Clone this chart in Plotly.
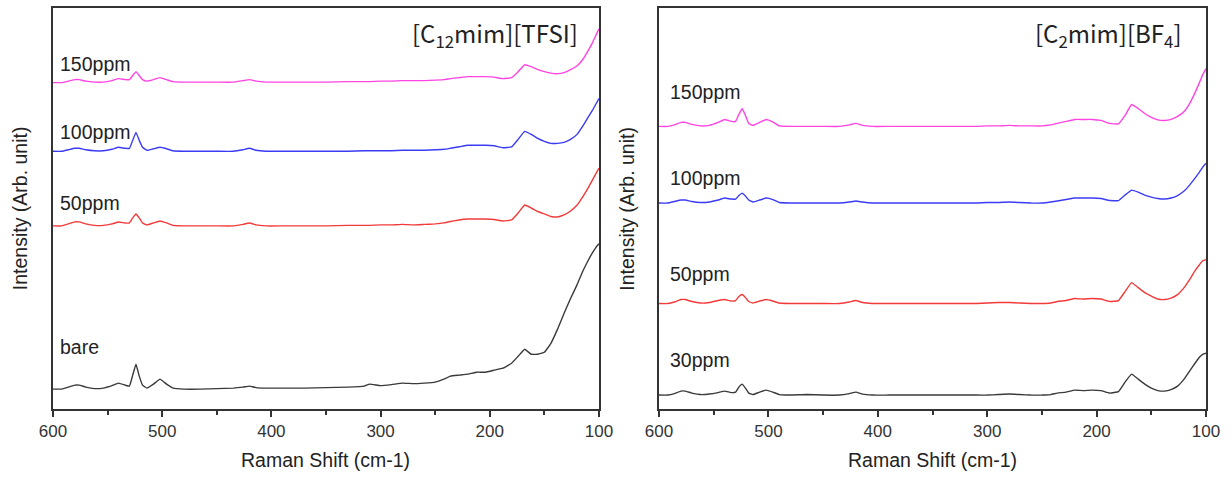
import plotly.graph_objects as go

# Raman shift grid (cm-1), shared by all spectra
raman_shift = [600, 592, 586, 580, 576, 570, 562, 554, 546, 540,
               534, 530, 527, 524, 521, 518, 514, 508, 502, 496,
               490, 480, 465, 450, 435, 426, 420, 414, 405, 390,
               370, 350, 330, 315, 310, 300, 290, 280, 270, 260,
               250, 242, 236, 228, 220, 212, 204, 196, 188, 180,
               174, 168, 162, 156, 150, 144, 138, 132, 126, 120,
               115, 110, 106, 103, 100]

# ---- Left panel: [C12mim][TFSI] (offset intensities, arb. unit)
tfsi_150 = [328, 328, 329.5, 331, 331, 329.5, 328.5, 328.5, 330, 332,
            331, 331, 335, 339, 335, 331, 329.5, 331, 333, 331,
            329, 328.5, 328.5, 328.5, 328.5, 330, 331, 329.5, 328.5, 328.5,
            328.5, 328.5, 329, 329, 329, 329.5, 329.5, 330, 330, 330,
            330.5, 331, 332, 333, 334, 334, 334, 333.5, 332, 333,
            339, 346, 344, 341, 339, 337.5, 337, 338, 341, 345,
            351, 360, 368, 375, 382]
tfsi_100 = [259, 259, 260.5, 262, 262, 260.5, 259.5, 259.5, 261, 263,
            262, 262, 270, 278, 270, 263, 260, 261.5, 263, 261.5,
            259.5, 259, 259, 259, 259, 260.5, 262, 260, 259, 259,
            259, 259, 259, 259.5, 259.5, 259.5, 259.5, 260, 260, 260,
            260.5, 261, 262, 263.5, 265, 265, 265, 264.5, 262.5, 263.5,
            271, 279, 276, 272, 269, 267, 267, 268, 271, 276,
            284, 293, 300, 306, 312]
tfsi_50 = [184, 184, 186, 188, 188, 186, 184.5, 184.5, 186, 188,
           187, 187, 192, 196, 192, 187, 185, 187, 189, 187,
           184.5, 184, 184, 184, 184, 185.5, 187, 185, 184, 184,
           184, 184, 184.5, 184.5, 184.5, 185, 185, 185.5, 185, 185.5,
           186, 187, 188.5, 190, 191, 191, 191, 190.5, 189, 190,
           197, 205, 202, 198.5, 196, 193.5, 193, 195, 199, 205,
           213, 222, 230, 236, 242]
tfsi_bare = [20, 20, 22, 24, 24, 22, 20.5, 21, 23.5, 26,
             24, 23, 34, 45, 33, 24, 21, 25, 30, 25,
             21, 20, 20, 20.5, 21, 22, 23, 21.5, 21, 21,
             21, 21.5, 22, 23, 25, 23.5, 24.5, 26, 25.5, 26,
             27, 30, 33, 34, 35, 37, 37, 39, 41, 46,
             53, 60, 55, 55, 57, 66, 80, 96, 111, 125,
             138, 149, 157, 162, 166]

# ---- Right panel: [C2mim][BF4]
bf4_150 = [284, 284, 285.5, 288, 288, 286, 284.5, 285, 288, 291,
           289, 289, 296, 302, 295, 287, 285, 288, 291, 288.5,
           284.5, 284, 284, 284, 284, 285.5, 287, 285, 284, 284,
           284, 284, 284, 284, 284, 284.5, 284.5, 285, 284.5, 284.5,
           284.5, 285.5, 287, 289, 291, 291, 291, 290, 287, 286.5,
           295, 306, 302, 297, 293, 290.5, 290, 291, 294, 299,
           307, 318, 328, 336, 342]
bf4_100 = [207, 207, 208.5, 210, 210, 208.5, 207.5, 208, 210, 212,
           211, 211, 214.5, 217, 214, 210, 208, 210, 212, 210.5,
           207.5, 207, 207, 207, 207, 208, 209, 208, 207, 207,
           207, 207, 207, 207, 207, 207.5, 207.5, 208, 207.5, 207,
           207, 208, 209, 210.5, 212, 212, 212, 211.5, 209.5, 209.5,
           215, 220, 218, 215, 213, 211.5, 211, 212, 214.5, 219,
           225, 232, 238, 243, 247]
bf4_50 = [106, 106, 107.5, 110, 110, 108, 106.5, 107, 109, 110,
          108.5, 109, 113, 115, 112, 108, 106.5, 108.5, 110, 108.5,
          106.5, 106, 106, 106, 106, 107.5, 109, 107, 106, 106,
          106, 106, 106, 106, 106, 106.5, 107, 107, 106.5, 106,
          106, 106.5, 108, 109, 111, 110.5, 111, 110.5, 108, 109,
          118, 127, 122, 117, 113.5, 110.5, 110, 111.5, 115, 122,
          130, 139, 145, 149, 150]
bf4_30 = [14, 14, 15.5, 18, 18, 16, 14.5, 15, 16.5, 18,
          16.5, 17, 22, 25, 21, 16, 14.5, 17, 19, 17,
          14.5, 14, 14.5, 14, 14, 15.5, 17, 15, 14, 14,
          14, 14, 14, 14, 14, 14, 14.5, 15, 14.5, 14,
          14, 14.5, 16, 17, 19, 18.5, 19, 18.5, 16, 17.5,
          27, 35, 30, 25, 21, 18.5, 18, 19.5, 23, 30,
          38, 46, 52, 55, 56]

# labels
left_labels = ["150ppm", "100ppm", "50ppm", "bare"]
left_label_y = [347, 278, 207, 62]
right_labels = ["150ppm", "100ppm", "50ppm", "30ppm"]
right_label_y = [319, 232, 136, 49]
titles = ["[C<sub>12</sub>mim][TFSI]", "[C<sub>2</sub>mim][BF<sub>4</sub>]"]

colors = ["#ff44e2", "#3b3bf5", "#f23a3a", "#3a3a3a"]
left_series = [tfsi_150, tfsi_100, tfsi_50, tfsi_bare]
right_series = [bf4_150, bf4_100, bf4_50, bf4_30]

fig = go.Figure()
for ys, c in zip(left_series, colors):
    fig.add_trace(go.Scatter(x=raman_shift, y=ys, mode="lines", xaxis="x", yaxis="y",
                             line=dict(color=c, width=1.4, shape="spline", smoothing=0.3),
                             showlegend=False, hoverinfo="skip"))
for ys, c in zip(right_series, colors):
    fig.add_trace(go.Scatter(x=raman_shift, y=ys, mode="lines", xaxis="x2", yaxis="y2",
                             line=dict(color=c, width=1.4, shape="spline", smoothing=0.3),
                             showlegend=False, hoverinfo="skip"))

axis_font = dict(family="Liberation Sans, Arial, sans-serif", size=17, color="#333")
xcommon = dict(range=[600, 100], tickvals=[600, 500, 400, 300, 200, 100],
               ticks="outside", ticklen=6, tickwidth=1.5, tickcolor="#333",
               minor=dict(tickvals=[550, 450, 350, 250, 150], ticks="outside", ticklen=4,
                          tickwidth=1.5, tickcolor="#333"),
               showline=True, linecolor="#333", linewidth=1.5, mirror=True,
               showgrid=False, zeroline=False, tickfont=axis_font)
ycommon = dict(range=[0, 403], showticklabels=False, ticks="", showline=True,
               linecolor="#333", linewidth=1.5, mirror=True, showgrid=False, zeroline=False)

fig.update_layout(
    width=1232, height=479,
    margin=dict(l=53, r=26, t=6, b=70),
    paper_bgcolor="white", plot_bgcolor="white",
    xaxis=dict(domain=[0, 0.4735], anchor="y", **xcommon),
    xaxis2=dict(domain=[0.5256, 1], anchor="y2", **xcommon),
    yaxis=dict(anchor="x", **ycommon),
    yaxis2=dict(anchor="x2", **ycommon),
)

label_font = dict(family="Liberation Sans, Arial, sans-serif", size=19.5, color="#222")
ann = []
for t, yv in zip(left_labels, left_label_y):
    ann.append(dict(x=595, y=yv, xref="x", yref="y", text=t, showarrow=False,
                    xanchor="left", yanchor="middle", font=label_font))
for t, yv in zip(right_labels, right_label_y):
    ann.append(dict(x=592, y=yv, xref="x2", yref="y2", text=t, showarrow=False,
                    xanchor="left", yanchor="middle", font=label_font))
title_font = dict(family="Noto Sans CJK KR, Noto Sans, sans-serif", size=24, color="#222")
ann.append(dict(x=0.965, y=0.935, xref="x domain", yref="y domain", text=titles[0],
                showarrow=False, xanchor="right", yanchor="middle", font=title_font))
ann.append(dict(x=0.96, y=0.935, xref="x2 domain", yref="y2 domain", text=titles[1],
                showarrow=False, xanchor="right", yanchor="middle", font=title_font))
for xr, yr, xpos in [("x domain", "y domain", -0.061), ("x2 domain", "y2 domain", -0.06)]:
    ann.append(dict(x=xpos, y=0.5, xref=xr, yref=yr, text="Intensity (Arb. unit)",
                    textangle=-90, showarrow=False, xanchor="center", yanchor="middle",
                    font=label_font))
    ann.append(dict(x=0.5, y=-0.127, xref=xr, yref=yr, text="Raman Shift (cm-1)",
                    showarrow=False, xanchor="center", yanchor="middle", font=label_font))
fig.update_layout(annotations=ann)

fig.write_html("out.html")
